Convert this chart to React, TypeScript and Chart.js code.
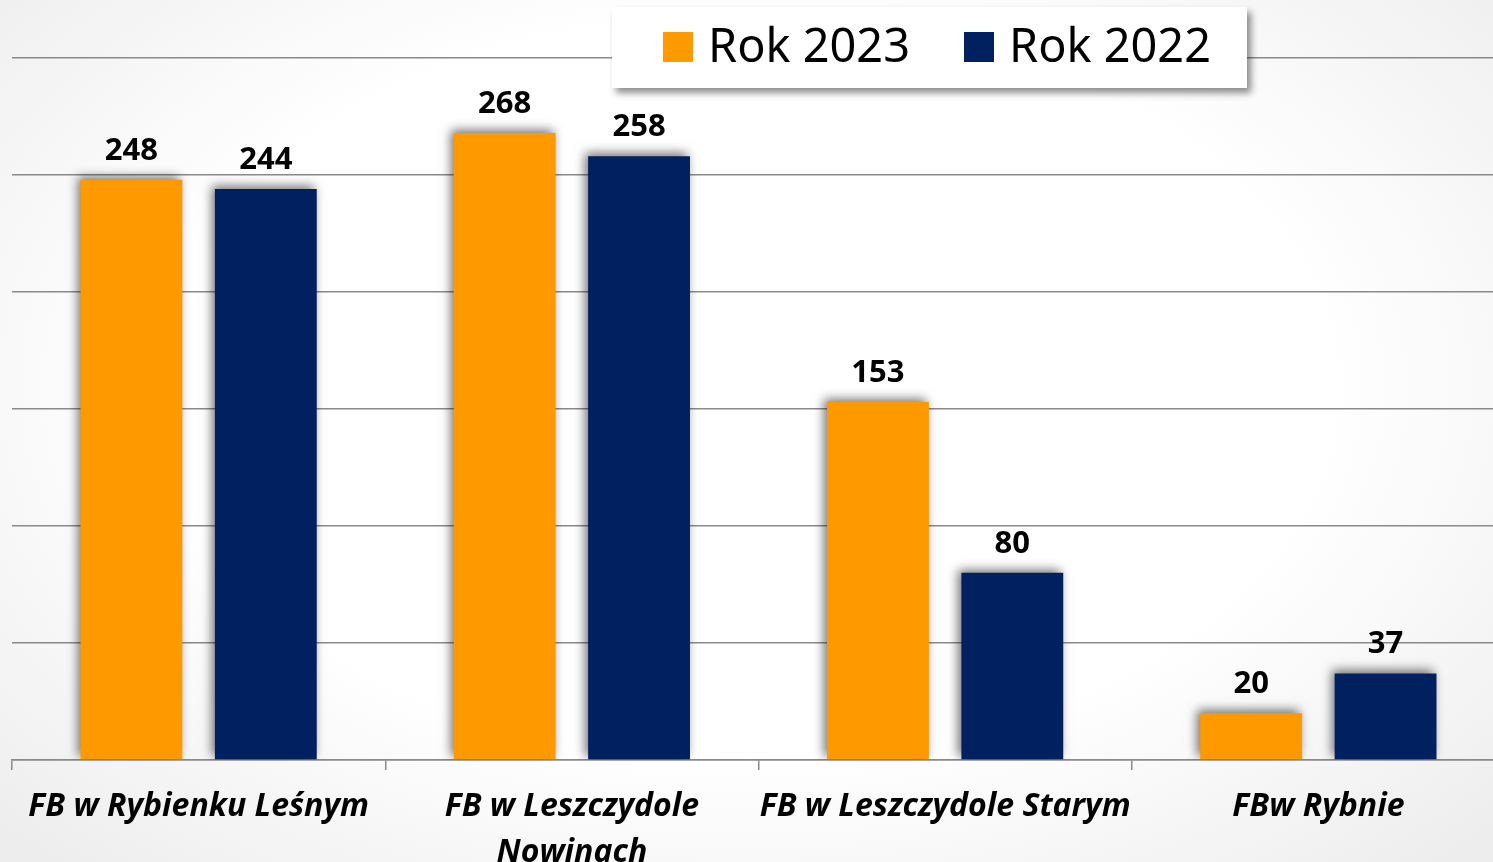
import React, { useEffect, useRef } from "react";
import { Chart, registerables } from "chart.js";
Chart.register(...registerables);

const categories: string[][] = [
  ["FB w Rybienku Leśnym"],
  ["FB w Leszczydole", "Nowinach"],
  ["FB w Leszczydole Starym"],
  ["FBw Rybnie"],
];
const series2023 = [248, 268, 153, 20];
const series2022 = [244, 258, 80, 37];
const seriesNames = ["Rok 2023", "Rok 2022"];
const seriesColors = ["#FF9900", "#002060"];
const yMin = 0;
const yMax = 300;
const yStep = 50;

const barShadow = {
  id: "barShadow",
  beforeDatasetDraw(chart: any) {
    const ctx = chart.ctx;
    ctx.save();
    ctx.shadowColor = "rgba(0,0,0,0.55)";
    ctx.shadowBlur = 10;
    ctx.shadowOffsetX = -3;
    ctx.shadowOffsetY = -3;
  },
  afterDatasetDraw(chart: any) {
    chart.ctx.restore();
  },
};

const valueLabels = {
  id: "valueLabels",
  afterDatasetsDraw(chart: any) {
    const ctx = chart.ctx;
    ctx.save();
    ctx.font = 'bold 31px "Open Sans"';
    ctx.fillStyle = "#000";
    ctx.textAlign = "center";
    ctx.textBaseline = "alphabetic";
    chart.data.datasets.forEach((ds: any, di: number) => {
      const meta = chart.getDatasetMeta(di);
      meta.data.forEach((el: any, i: number) => {
        ctx.fillText(String(ds.data[i]), el.x, el.y - 20);
      });
    });
    ctx.restore();
  },
};

const legendBox = {
  id: "legendBox",
  afterDraw(chart: any) {
    const ctx = chart.ctx;
    const bx = 612, by = 7, bw = 635, bh = 81;
    ctx.save();
    ctx.shadowColor = "rgba(0,0,0,0.45)";
    ctx.shadowBlur = 7;
    ctx.shadowOffsetX = 4;
    ctx.shadowOffsetY = 5;
    ctx.fillStyle = "#fff";
    ctx.fillRect(bx, by, bw, bh);
    ctx.restore();
    ctx.save();
    ctx.font = '48px "Noto Sans"';
    ctx.textBaseline = "alphabetic";
    ctx.textAlign = "left";
    const starts = [663, 964];
    chart.data.datasets.forEach((ds: any, i: number) => {
      const x = starts[i];
      ctx.fillStyle = ds.backgroundColor;
      ctx.fillRect(x, 32, 30, 30);
      ctx.fillStyle = "#000";
      ctx.fillText(ds.label, x + 45, 62, 202);
    });
    ctx.restore();
  },
};

export default function App() {
  const ref = useRef<HTMLCanvasElement | null>(null);
  useEffect(() => {
    if (!ref.current) return;
    const chart = new Chart(ref.current, {
      type: "bar",
      data: {
        labels: categories,
        datasets: [
          { label: seriesNames[0], data: series2023, backgroundColor: seriesColors[0] },
          { label: seriesNames[1], data: series2022, backgroundColor: seriesColors[1] },
        ],
      },
      options: {
        responsive: false,
        animation: false,
        devicePixelRatio: 1,
        categoryPercentage: 0.72,
        barPercentage: 0.758,
        layout: { padding: { left: 12, right: 15, top: 58, bottom: 0 } },
        plugins: {
          legend: { display: false },
          title: { display: false },
          tooltip: { enabled: false },
        },
        scales: {
          x: {
            grid: {
              offset: true,
              drawOnChartArea: false,
              drawTicks: true,
              tickLength: 10,
              color: "#8a8a8a",
              lineWidth: 1.5,
            },
            border: { display: true, color: "#8a8a8a", width: 1.5 },
            ticks: {
              color: "#000",
              font: { family: "Open Sans", size: 32, weight: "bold", style: "italic", lineHeight: 1.44 },
              padding: 14,
              maxRotation: 0,
              autoSkip: false,
            },
            afterFit: (s: any) => {
              s.height = 102;
            },
          },
          y: {
            min: yMin,
            max: yMax,
            ticks: { stepSize: yStep, display: false },
            border: { display: false },
            grid: { color: "#8a8a8a", lineWidth: 1.5, drawTicks: false },
            afterFit: (s: any) => {
              s.width = 0;
            },
          },
        },
      },
      plugins: [barShadow, valueLabels, legendBox],
    });
    return () => chart.destroy();
  }, []);
  return (
    <div
      style={{
        position: "fixed",
        left: 0,
        top: 0,
        width: 1493,
        height: 862,
        overflow: "hidden",
        background: "radial-gradient(ellipse at 50% 45%, #ffffff 55%, #ececec 100%)",
      }}
    >
      <canvas ref={ref} width={1520} height={862} style={{ display: "block", width: 1520, height: 862 }} />
    </div>
  );
}
